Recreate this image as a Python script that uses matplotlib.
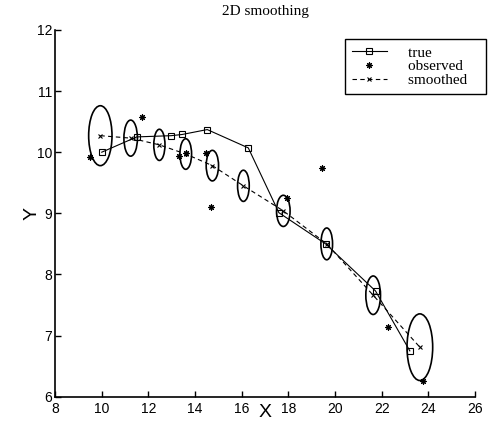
import matplotlib
matplotlib.use("Agg")
import matplotlib.pyplot as plt
from matplotlib.patches import Ellipse

# true trajectory
true_x = [10.0, 11.5, 12.97, 13.45, 14.52, 16.28, 17.59, 19.59, 21.73, 23.2]
true_y = [10.0, 10.25, 10.27, 10.29, 10.37, 10.07, 9.01, 8.50, 7.73, 6.75]

# noisy observations
obs_x = [9.5, 11.74, 13.32, 13.61, 14.47, 14.67, 17.92, 19.42, 22.27, 23.77]
obs_y = [9.92, 10.58, 9.93, 9.98, 9.99, 9.11, 9.25, 9.74, 7.14, 6.26]

# smoothed estimates
sm_x = [9.94, 11.24, 12.47, 13.6, 14.74, 16.07, 17.78, 19.64, 21.63, 23.63]
sm_y = [10.27, 10.23, 10.12, 9.97, 9.78, 9.45, 9.04, 8.50, 7.66, 6.81]

# covariance ellipse sizes (data units)
ell_w = [1.0, 0.58, 0.48, 0.5, 0.53, 0.5, 0.58, 0.5, 0.63, 1.1]
ell_h = [0.98, 0.59, 0.51, 0.5, 0.5, 0.51, 0.51, 0.52, 0.63, 1.09]

sans = "Liberation Sans"
serif = "Liberation Serif"

fig = plt.figure(figsize=(4.96, 4.24), dpi=100)
ax = fig.add_axes([0.111, 0.0644, 0.847, 0.865])

ax.plot(true_x, true_y, "k-", marker="s", markersize=4, markerfacecolor="none",
        markeredgewidth=0.8, linewidth=0.8, label="true")
ax.plot(obs_x, obs_y, "k", linestyle="none", marker=(8, 2, 0), markersize=4.5,
        markeredgewidth=0.8, label="observed")
ax.plot(sm_x, sm_y, "k--", marker="x", markersize=3.5, markeredgewidth=0.8,
        linewidth=0.8, dashes=(4, 3), label="smoothed")

for cx, cy, w, h in zip(sm_x, sm_y, ell_w, ell_h):
    ax.add_patch(Ellipse((cx, cy), w, h, fill=False, edgecolor="k", linewidth=1.2))

ax.set_xlim(8, 26)
ax.set_ylim(6, 12)
ax.set_xticks(range(8, 27, 2))
ax.set_yticks(range(6, 13))

for s in ["top", "right"]:
    ax.spines[s].set_visible(False)
for s in ["left", "bottom"]:
    ax.spines[s].set_linewidth(1.2)

ax.tick_params(direction="in", length=4, width=1.0, labelsize=10, pad=2)
ax.tick_params(axis="x", pad=4)
for lab in ax.get_xticklabels() + ax.get_yticklabels():
    lab.set_family(sans)

ax.set_xlabel("X", fontsize=14, family=sans, labelpad=-9)
ax.set_ylabel("Y", fontsize=14, family=sans, labelpad=-3)
ax.set_title("2D smoothing", fontsize=11, family=serif, pad=11)

# trailing spaces widen the box like the original legend
leg = ax.legend(loc="upper right", bbox_to_anchor=(486 / 496, 1 - 39 / 424),
                bbox_transform=fig.transFigure, borderaxespad=0, fancybox=False,
                framealpha=1, edgecolor="k", prop={"family": serif, "size": 11},
                numpoints=1, handlelength=2.3, handletextpad=1.4,
                labelspacing=0.0, borderpad=0.45)
leg.get_frame().set_linewidth(1.0)
for t in leg.get_texts():
    t.set_text(t.get_text() + "   ")

fig.savefig("out.png", dpi=100)
